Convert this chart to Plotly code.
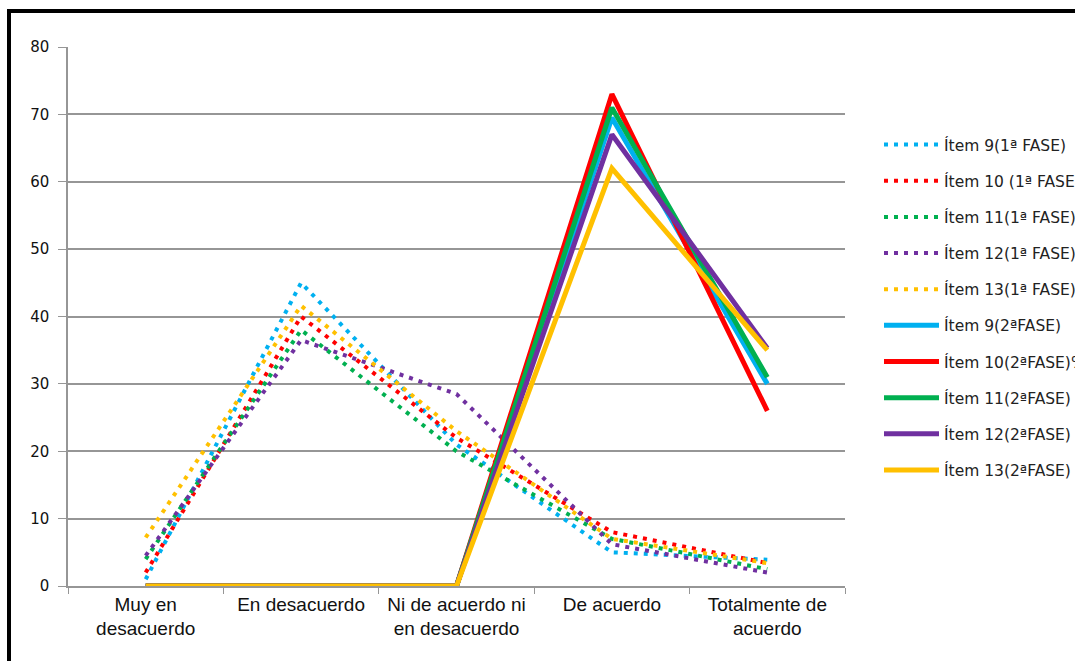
import plotly.graph_objects as go

categories = ["Muy en<br>desacuerdo", "En desacuerdo", "Ni de acuerdo ni<br>en desacuerdo",
              "De acuerdo", "Totalmente de<br>acuerdo"]

names = ["Ítem 9(1ª FASE)", "Ítem 10 (1ª FASE)", "Ítem 11(1ª FASE)", "Ítem 12(1ª FASE)",
         "Ítem 13(1ª FASE)", "Ítem 9(2ªFASE)", "Ítem 10(2ªFASE)%", "Ítem 11(2ªFASE)",
         "Ítem 12(2ªFASE)", "Ítem 13(2ªFASE)"]

item9_f1 = [1, 45, 21, 5, 3.9]
item10_f1 = [2, 40, 22, 8, 3.4]
item11_f1 = [4, 38, 20, 7, 2.5]
item12_f1 = [4.5, 36.5, 28.5, 6.2, 2]
item13_f1 = [7.2, 41.6, 23, 7, 3.4]
item9_f2 = [0, 0, 0, 69.5, 30]
item10_f2 = [0, 0, 0, 73, 26]
item11_f2 = [0, 0, 0, 71, 31]
item12_f2 = [0, 0, 0, 67, 35.3]
item13_f2 = [0, 0, 0, 62, 35]

series = [item9_f1, item10_f1, item11_f1, item12_f1, item13_f1,
          item9_f2, item10_f2, item11_f2, item12_f2, item13_f2]
colors = ["#00B0F0", "#FF0000", "#00B050", "#7030A0", "#FFC000"] * 2

fig = go.Figure()
for i, (nm, vals, col) in enumerate(zip(names, series, colors)):
    dotted = i < 5
    fig.add_trace(go.Scatter(
        x=categories, y=vals, name=nm, mode="lines",
        legendgroup=f"g{i}",
        line=dict(color=col, width=4 if dotted else 5,
                  dash="4px,6px" if dotted else "solid"),
    ))

W, H = 1075, 661
L, R, T, B = 68, 230, 47, 75
pw, ph = W - L - R, H - T - B

def px_x(p):
    return (p - L) / pw

def px_y(p):
    return (H - B - p) / ph

fig.add_shape(type="rect", xref="paper", yref="paper",
              x0=px_x(9), x1=px_x(1200), y0=px_y(11), y1=px_y(800),
              line=dict(color="black", width=4), layer="above")

fig.update_layout(
    width=W, height=H,
    margin=dict(l=L, r=R, t=T, b=B, autoexpand=False),
    paper_bgcolor="white", plot_bgcolor="white",
    showlegend=True,
    legend=dict(x=px_x(879), y=px_y(128), xanchor="left", yanchor="top",
                font=dict(family="DejaVu Sans", size=15.5, color="#222"),
                tracegroupgap=13, itemwidth=55, bgcolor="rgba(0,0,0,0)"),
    xaxis=dict(type="category", range=[-0.5, 4.5], showgrid=False,
               showline=True, linecolor="#969696", linewidth=1.5,
               ticks="outside", tickson="boundaries", ticklen=6, tickcolor="#969696",
               tickfont=dict(family="Liberation Sans", size=19, color="#111")),
    yaxis=dict(range=[0, 80], dtick=10, showgrid=True, gridcolor="#969696", gridwidth=1.5,
               showline=True, linecolor="#969696", linewidth=1.5,
               ticks="outside", ticklen=8, tickcolor="#969696", zeroline=False,
               ticklabelstandoff=6,
               tickfont=dict(family="DejaVu Sans", size=15, color="#111")),
)

fig.write_html("out.html", config={"displayModeBar": False},
               post_script="document.body.style.margin='0';document.body.style.overflow='hidden';")
